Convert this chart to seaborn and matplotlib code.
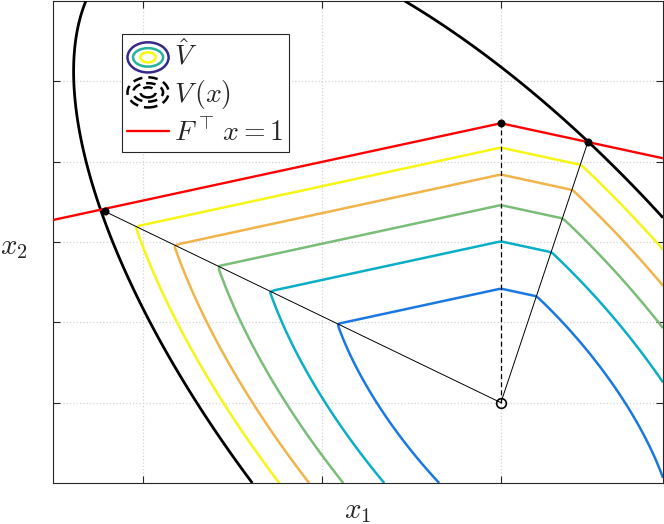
import matplotlib
matplotlib.use("Agg")

import numpy as np
import matplotlib.pyplot as plt
import seaborn as sns
from matplotlib.patches import Ellipse
from matplotlib.legend_handler import HandlerBase

# ==========================
# Values
# ==========================

# quadratic form V(x) = x' P x  (black ellipse is V(x) = 1)
P = [[0.347, 0.198],
     [0.198, 0.229]]

# the two faces of the red roof  max(F_i' x) = 1
F_left = [-0.1385, 0.575]
F_right = [0.1385, 0.575]

# levels of V_hat and their colours (inner -> outer)
levels = [1 / 6, 2 / 6, 3 / 6, 4 / 6, 5 / 6]
level_colors = ["#1a78e2", "#0aaec6", "#7abd78", "#f0b44a", "#f6f614"]

# marked points
cross_x = [-2.21, 0.485]      # where the ellipse meets the red line
cross_y = [1.19, 1.62]
kink = [0.0, 1.739]           # corner of the red line
origin = [0.0, 0.0]

x_lim = [-2.5, 0.905]
y_lim = [-0.5, 2.5]
x_ticks = [-2, -1, 0]
y_ticks = [0, 0.5, 1, 1.5, 2]

legend_labels = [r"$\hat{V}$", r"$V\,(x)$", r"$F^{\top}\,x = 1$"]
legend_ring_colors = ["#352a87", "#26b29c", "#f9f90e"]

# ==========================
# Style
# ==========================

sns.set_style("ticks")
plt.rcParams["mathtext.fontset"] = "cm"
plt.rcParams["font.family"] = ["DejaVu Sans"]

fig = plt.figure(figsize=(6.64, 5.24), dpi=100)
ax = fig.add_axes([53 / 664, 41 / 524, 610 / 664, 482 / 524])

# ==========================
# Contours
# ==========================

# fairly coarse grid, like the original (corners come out slightly rounded)
xs = np.linspace(x_lim[0], x_lim[1], 150)
ys = np.linspace(y_lim[0], y_lim[1], 150)
X, Y = np.meshgrid(xs, ys)

V = P[0][0] * X ** 2 + 2 * P[0][1] * X * Y + P[1][1] * Y ** 2
L = np.maximum(F_left[0] * X + F_left[1] * Y, F_right[0] * X + F_right[1] * Y)
V_hat = np.maximum(V, np.clip(L, 0, None) ** 2)

ax.contour(X, Y, V_hat, levels=levels, colors=level_colors, linewidths=1.8, zorder=2)
ax.contour(X, Y, V, levels=[1], colors="black", linewidths=2.0, zorder=3)
ax.contour(X, Y, L, levels=[1], colors="red", linewidths=1.7, zorder=3)

# rays from the origin
for px, py in zip(cross_x, cross_y):
    sns.lineplot(x=[origin[0], px], y=[origin[1], py], sort=False,
                 color="black", linewidth=0.7, ax=ax, zorder=4)
ax.plot([origin[0], kink[0]], [origin[1], kink[1]], color="black",
        linewidth=0.9, linestyle=(0, (4, 2.5)), zorder=4)

sns.scatterplot(x=cross_x + [kink[0]], y=cross_y + [kink[1]], color="black",
                s=28, edgecolor="black", ax=ax, zorder=5)
ax.plot(origin[0], origin[1], "o", mfc="none", mec="black", ms=7, mew=1.2, zorder=5)

# ==========================
# Axes
# ==========================

ax.set_xlim(x_lim)
ax.set_ylim(y_lim)
ax.set_xticks(x_ticks)
ax.set_yticks(y_ticks)
ax.tick_params(direction="in", top=True, right=True, length=5, width=0.8,
               labelbottom=False, labelleft=False, color="#262626")
for s in ax.spines.values():
    s.set_color("#262626")
    s.set_linewidth(0.8)
ax.grid(True, linestyle=":", color="#d4d4d4", linewidth=0.9)
ax.set_axisbelow(True)

ax.set_xlabel(r"$x_1$", fontsize=21)
ax.set_ylabel(r"$x_2$", fontsize=21, rotation=0, ha="right", va="center")
ax.xaxis.set_label_coords(0.5, -0.03)
ax.yaxis.set_label_coords(-0.041, 0.49)

# ==========================
# Legend with ring icons
# ==========================


class RingKey:
    def __init__(self, colors, ls, dy=0.0):
        self.colors = colors
        self.ls = ls
        self.dy = dy


class RingHandler(HandlerBase):
    def create_artists(self, legend, orig_handle, xdescent, ydescent,
                       width, height, fontsize, trans):
        cx = 0.5 * width - xdescent
        cy = 0.5 * height - ydescent + orig_handle.dy
        out = []
        wf = [1.0, 0.73, 0.37]
        hf = [1.55, 0.95, 0.52]
        for k, c in enumerate(orig_handle.colors):
            e = Ellipse((cx, cy), width * wf[k], height * hf[k], fill=False,
                        edgecolor=c, linewidth=1.8, linestyle=orig_handle.ls,
                        transform=trans)
            out.append(e)
        return out


hat_key = RingKey(legend_ring_colors, "-", dy=-2.0)
v_key = RingKey(["black", "black", "black"], (0, (3.8, 2.4)))
red_key = plt.Line2D([], [], color="red", linewidth=1.7)

leg = ax.legend([hat_key, v_key, red_key], legend_labels,
                handler_map={RingKey: RingHandler()},
                loc="upper left", bbox_to_anchor=(0.113, 0.932), borderaxespad=0,
                fontsize=20, handlelength=1.48, handletextpad=0.2,
                labelspacing=0.28, borderpad=0.2, fancybox=False,
                framealpha=1, edgecolor="#262626")
leg.get_frame().set_linewidth(0.8)

fig.savefig("out.png", dpi=100)
